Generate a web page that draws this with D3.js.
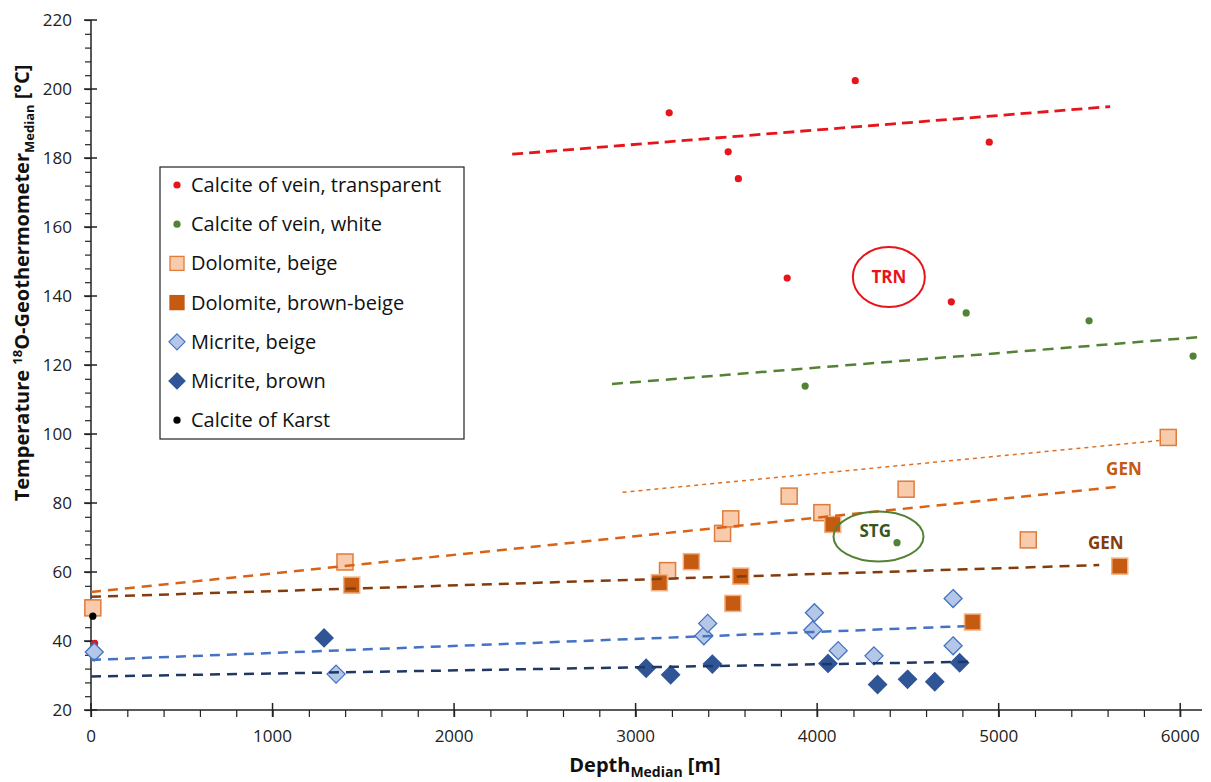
<!DOCTYPE html>
<html>
<head>
<meta charset="utf-8">
<script src="https://cdn.jsdelivr.net/npm/d3@7"></script>
<style>
  body { margin: 0; background: #fff; }
  text { font-family: "Open Sans", Lato, sans-serif; }
</style>
</head>
<body>
<svg id="chart" width="1211" height="782"></svg>
<script>
// depth [m], temperature [°C]
var veinTransparent = [[20,39.3],[3185,193.1],[3510,181.8],[3566,174],[3835,145.2],[4210,202.4],[4739,138.3],[4948,184.6]];
var veinWhite = [[3934,113.9],[4440,68.5],[4821,135.1],[5498,132.8],[6071,122.6]];
var dolomiteBeige = [[10,49.6],[1399,62.9],[3176,60.4],[3479,71.2],[3524,75.4],[3846,82],[4026,77.2],[4490,84],[5163,69.3],[5934,99]];
var dolomiteBrown = [[1436,56.2],[3131,56.9],[3307,63],[3536,50.9],[3579,58.8],[4086,73.8],[4856,45.5],[5667,61.7]];
var micriteBeige = [[18,36.8],[1350,30.4],[3376,41.5],[3397,45.1],[3976,43.2],[3985,48.2],[4116,37.2],[4313,35.7],[4749,38.6],[4749,52.3]];
var micriteBrown = [[1284,40.9],[3058,32.1],[3193,30.2],[3423,33.3],[4060,33.5],[4333,27.4],[4498,28.9],[4648,28.2],[4785,33.7]];
var karst = [[10,47.2]];

// trend lines: [x0, y0, x1, y1]
var trendRed = [2320,181.1,5614,194.9];
var trendGreen = [2870,114.5,6110,128.1];
var trendDolBeigeDot = [2928,83.1,5885,98.1];
var trendDolBeige = [0,54.2,5660,84.7];
var trendDolBrown = [0,52.8,5554,62.0];
var trendMicBeige = [0,34.5,4813,44.3];
var trendMicBrown = [0,29.7,4849,34.0];

var xTicks = [0,1000,2000,3000,4000,5000,6000];
var yTicks = [20,40,60,80,100,120,140,160,180,200,220];

var svg = d3.select("#chart");
var x = d3.scaleLinear().domain([0,6120]).range([91,1202]);
var y = d3.scaleLinear().domain([20,220]).range([710,20]);

// axes
var xAxis = svg.append("g").attr("transform","translate(0,710)")
  .call(d3.axisBottom(x).tickValues(d3.range(0,6001,200)).tickSize(7).tickFormat(""));
xAxis.select(".domain").attr("stroke","#222").attr("stroke-width",1.5).attr("d","M91,0H1202");
xAxis.selectAll(".tick line").attr("stroke","#222").attr("stroke-width",1.2);
var xMaj = svg.append("g").attr("transform","translate(0,710)");
xMaj.selectAll("line").data(xTicks).enter().append("line")
  .attr("x1",function(d){return x(d);}).attr("x2",function(d){return x(d);})
  .attr("y1",-7).attr("y2",7).attr("stroke","#222").attr("stroke-width",1.5);
xMaj.selectAll("text").data(xTicks).enter().append("text")
  .attr("x",function(d){return x(d);}).attr("y",32)
  .attr("text-anchor","middle").attr("font-size",17).attr("fill","#222")
  .text(function(d){return d;});

var yAxis = svg.append("g").attr("transform","translate(91,0)")
  .call(d3.axisLeft(y).tickValues(d3.range(20,221,4)).tickSize(6).tickFormat(""));
yAxis.select(".domain").attr("stroke","#222").attr("stroke-width",1.5).attr("d","M0,710V20");
yAxis.selectAll(".tick line").attr("stroke","#222").attr("stroke-width",1.2);
var yMaj = svg.append("g").attr("transform","translate(91,0)");
yMaj.selectAll("line").data(yTicks).enter().append("line")
  .attr("x1",-7).attr("x2",6)
  .attr("y1",function(d){return y(d);}).attr("y2",function(d){return y(d);})
  .attr("stroke","#222").attr("stroke-width",1.5);
yMaj.selectAll("text").data(yTicks).enter().append("text")
  .attr("x",-19).attr("y",function(d){return y(d)+6;})
  .attr("text-anchor","end").attr("font-size",17).attr("fill","#222")
  .text(function(d){return d;});

// axis titles
var yt = svg.append("text").attr("transform","translate(29,283) rotate(-90)")
  .attr("text-anchor","middle").attr("font-size",20).attr("font-weight","bold").attr("fill","#111");
yt.append("tspan").text("Temperature ");
yt.append("tspan").attr("font-size",13).attr("dy",-7).text("18");
yt.append("tspan").attr("dy",7).text("O-Geothermometer");
yt.append("tspan").attr("font-size",13).attr("dy",5).text("Median");
yt.append("tspan").attr("dy",-5).text(" [°C]");

var xt = svg.append("text").attr("x",645).attr("y",772)
  .attr("text-anchor","middle").attr("font-size",20).attr("font-weight","bold").attr("fill","#111");
xt.append("tspan").text("Depth");
xt.append("tspan").attr("font-size",14).attr("dy",5).text("Median");
xt.append("tspan").attr("dy",-5).text(" [m]");

// markers
function dots(data, color) {
  svg.append("g").selectAll("circle").data(data).enter().append("circle")
    .attr("cx",function(d){return x(d[0]);}).attr("cy",function(d){return y(d[1]);})
    .attr("r",3.6).attr("fill",color);
}
function squares(data, fill, stroke) {
  svg.append("g").selectAll("rect").data(data).enter().append("rect")
    .attr("x",function(d){return x(d[0])-8;}).attr("y",function(d){return y(d[1])-8;})
    .attr("width",16).attr("height",16).attr("fill",fill).attr("stroke",stroke).attr("stroke-width",1.5);
}
function diamonds(data, fill, stroke) {
  svg.append("g").selectAll("path").data(data).enter().append("path")
    .attr("d",function(d){var cx=x(d[0]), cy=y(d[1]), r=9;
      return "M"+cx+","+(cy-r)+"L"+(cx+r)+","+cy+"L"+cx+","+(cy+r)+"L"+(cx-r)+","+cy+"Z";})
    .attr("fill",fill).attr("stroke",stroke).attr("stroke-width",1.3);
}
dots(veinTransparent,"#E8141B");
dots(veinWhite,"#548235");
squares(dolomiteBeige,"#F8CBAD","#E07B3C");
squares(dolomiteBrown,"#C55A11","#F4B183");
diamonds(micriteBeige,"#B4C7E7","#4472C4");
diamonds(micriteBrown,"#2F5597","#2F5597");
dots(karst,"#000");

// trend lines
function trend(t, color, w, dash) {
  svg.append("line")
    .attr("x1",x(t[0])).attr("y1",y(t[1])).attr("x2",x(t[2])).attr("y2",y(t[3]))
    .attr("stroke",color).attr("stroke-width",w).attr("stroke-dasharray",dash);
}
trend(trendRed,"#E8141B",2.8,"11,6");
trend(trendGreen,"#548235",2.5,"11,7");
trend(trendDolBeigeDot,"#E07020",1.5,"4,4");
trend(trendDolBeige,"#D86317",2.5,"10,7");
trend(trendDolBrown,"#843C0C",2.5,"10,7");
trend(trendMicBeige,"#4472C4",2.5,"10,7");
trend(trendMicBrown,"#1F3864",2.5,"10,7");

// annotations
svg.append("ellipse").attr("cx",x(4395)).attr("cy",y(145.5)).attr("rx",36).attr("ry",30)
  .attr("fill","none").attr("stroke","#E8141B").attr("stroke-width",2);
svg.append("text").attr("x",x(4395)).attr("y",y(145.5)+6).attr("text-anchor","middle")
  .attr("font-size",17).attr("font-weight","bold").attr("fill","#E8141B").text("TRN");
svg.append("ellipse").attr("cx",x(4338)).attr("cy",y(70.3)).attr("rx",45).attr("ry",25)
  .attr("fill","none").attr("stroke","#548235").attr("stroke-width",2);
svg.append("text").attr("x",x(4320)).attr("y",y(71.8)+6).attr("text-anchor","middle")
  .attr("font-size",17).attr("font-weight","bold").attr("fill","#375623").text("STG");
svg.append("text").attr("x",x(5690)).attr("y",y(89.8)+6).attr("text-anchor","middle")
  .attr("font-size",17).attr("font-weight","bold").attr("fill","#C55A11").text("GEN");
svg.append("text").attr("x",x(5590)).attr("y",y(68.4)+6).attr("text-anchor","middle")
  .attr("font-size",17).attr("font-weight","bold").attr("fill","#843C0C").text("GEN");

// legend
var legendNames = ["Calcite of vein, transparent","Calcite of vein, white","Dolomite, beige","Dolomite, brown-beige","Micrite, beige","Micrite, brown","Calcite of Karst"];
var lg = svg.append("g");
lg.append("rect").attr("x",160).attr("y",167).attr("width",304).attr("height",272)
  .attr("fill","#fff").attr("stroke","#222").attr("stroke-width",1.2);
legendNames.forEach(function(name,i){
  var cy = 185 + i*39.2, cx = 177;
  if (i===0 || i===1 || i===6) {
    lg.append("circle").attr("cx",cx).attr("cy",cy).attr("r",3.6)
      .attr("fill",["#E8141B","#548235"][i] || "#000");
  } else if (i===2 || i===3) {
    lg.append("rect").attr("x",cx-7).attr("y",cy-7).attr("width",14).attr("height",14)
      .attr("fill",i===2?"#F8CBAD":"#C55A11").attr("stroke",i===2?"#E07B3C":"#C55A11").attr("stroke-width",1.3);
  } else {
    lg.append("path").attr("d","M"+cx+","+(cy-8)+"L"+(cx+8)+","+cy+"L"+cx+","+(cy+8)+"L"+(cx-8)+","+cy+"Z")
      .attr("fill",i===4?"#B4C7E7":"#2F5597").attr("stroke",i===4?"#4472C4":"#2F5597").attr("stroke-width",1.2);
  }
  lg.append("text").attr("x",191).attr("y",cy+7).attr("font-size",20).attr("fill","#111").text(name);
});
</script>
</body>
</html>
